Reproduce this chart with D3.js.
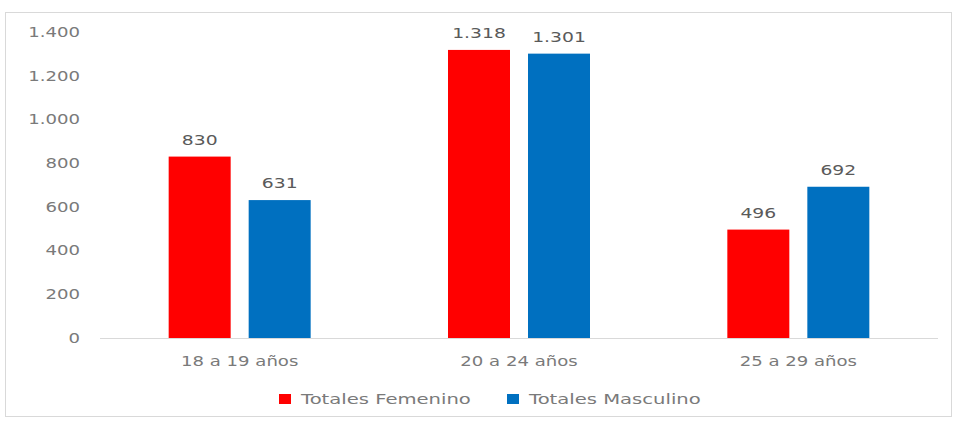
<!DOCTYPE html>
<html><head><meta charset="utf-8">
<script src="https://cdn.jsdelivr.net/npm/d3@7"></script>
<style>body{margin:0;background:#fff;}svg{display:block;}</style>
</head><body>
<svg id="c" width="957" height="422"></svg>
<script>
const categories = ["18 a 19 años", "20 a 24 años", "25 a 29 años"];
const seriesNames = ["Totales Femenino", "Totales Masculino"];
const femenino = [830, 1318, 496];
const masculino = [631, 1301, 692];
const yTicks = [0, 200, 400, 600, 800, 1000, 1200, 1400];
const colors = ["#ff0000", "#0070c0"];

const svg = d3.select("#c");
const font = "'DejaVu Sans', Verdana, sans-serif";
const textColor = "#7a7a7a";
const SX = 1.34;
const fmt = v => d3.format(",")(v).replace(/,/g, ".");

svg.append("rect").attr("x", 5.5).attr("y", 12.5).attr("width", 946).attr("height", 404)
  .attr("fill", "#fff").attr("stroke", "#d9d9d9").attr("stroke-width", 1);

const x0 = d3.scaleBand().domain(categories).range([100, 938]);
const x1 = d3.scaleBand().domain(seriesNames).range([0, 142]).paddingInner(0.225);
const y = d3.scaleLinear().domain([0, 1400]).range([338, 32]);

// y axis labels
const yAxis = svg.append("g").attr("transform", "translate(80,0)")
  .call(d3.axisLeft(y).tickValues(yTicks).tickFormat(fmt).tickSize(0).tickPadding(0));
yAxis.select(".domain").remove();
yAxis.selectAll("text").attr("font-family", font).attr("font-size", 13.5).attr("fill", textColor)
  .attr("x", null).attr("transform", `scale(${SX},1)`);

// baseline
svg.append("line").attr("x1", 100).attr("x2", 938).attr("y1", y(0) + 0.5).attr("y2", y(0) + 0.5)
  .attr("stroke", "#d9d9d9");

const data = categories.map((c, i) => ({cat: c, vals: [
  {s: seriesNames[0], v: femenino[i], c: colors[0]},
  {s: seriesNames[1], v: masculino[i], c: colors[1]}]}));

const g = svg.selectAll("g.cat").data(data).join("g").attr("class", "cat")
  .attr("transform", d => `translate(${x0(d.cat) + (x0.bandwidth() - 142) / 2},0)`);
g.selectAll("rect").data(d => d.vals).join("rect")
  .attr("x", d => x1(d.s)).attr("width", x1.bandwidth())
  .attr("y", d => y(d.v)).attr("height", d => y(0) - y(d.v)).attr("fill", d => d.c);
g.selectAll("text.lbl").data(d => d.vals).join("text").attr("class", "lbl")
  .attr("transform", d => `translate(${x1(d.s) + x1.bandwidth() / 2},${y(d.v) - 12}) scale(${SX},1)`)
  .attr("text-anchor", "middle").attr("font-family", font).attr("font-size", 14)
  .attr("fill", "#5a5a5a").text(d => fmt(d.v));

// x axis labels
const xAxis = svg.append("g").attr("transform", `translate(0,${y(0) + 18})`)
  .call(d3.axisBottom(x0).tickSize(0).tickPadding(0));
xAxis.select(".domain").remove();
xAxis.selectAll("text").attr("font-family", font).attr("font-size", 13.5).attr("fill", textColor)
  .attr("y", null).attr("dy", "0.71em").attr("transform", `scale(${SX},1)`);

// legend
const legX = [279, 507];
const leg = svg.selectAll("g.leg").data(seriesNames).join("g").attr("class", "leg")
  .attr("transform", (d, i) => `translate(${legX[i]},399)`);
leg.append("rect").attr("x", 0).attr("y", -5).attr("width", 12).attr("height", 10)
  .attr("fill", (d, i) => colors[i]);
leg.append("text").attr("transform", `translate(22,0) scale(1.4,1)`).attr("dy", "0.35em")
  .attr("font-family", font).attr("font-size", 14).attr("fill", textColor).text(d => d);
</script>
</body></html>
